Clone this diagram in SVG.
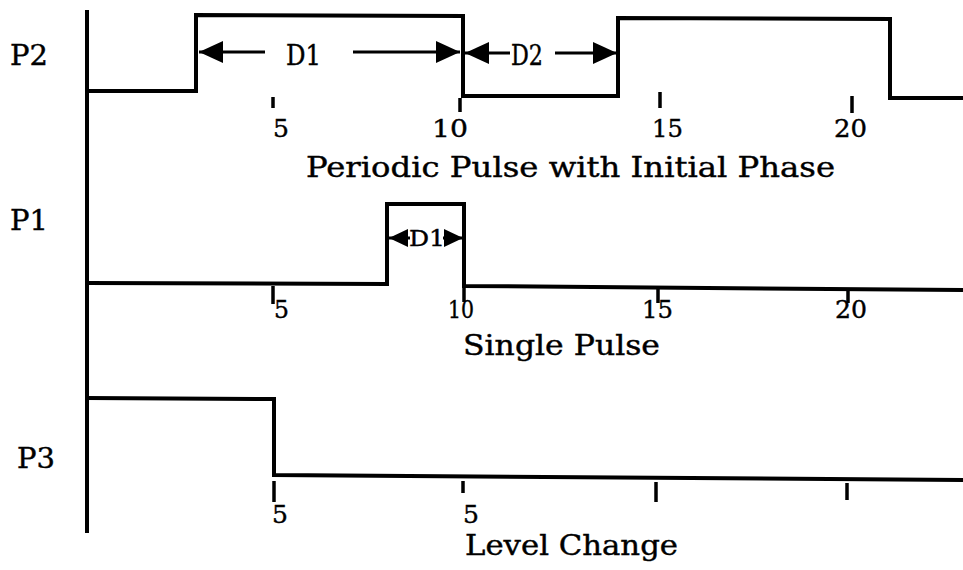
<svg xmlns="http://www.w3.org/2000/svg" width="963" height="570" viewBox="0 0 963 570">
<defs>
<marker id="ah" viewBox="0 0 24 22" refX="24" refY="11" markerWidth="24" markerHeight="22" markerUnits="userSpaceOnUse" orient="auto-start-reverse">
<path d="M0,0 L24,11 L0,22 Z" fill="#000"/>
</marker>
<marker id="ahs" viewBox="0 0 19 18" refX="19" refY="9" markerWidth="19" markerHeight="18" markerUnits="userSpaceOnUse" orient="auto-start-reverse">
<path d="M0,0 L19,9 L0,18 Z" fill="#000"/>
</marker>
</defs>
<style>
text { font-family: "DejaVu Serif", "Liberation Serif", serif; fill: #000; stroke: #000; stroke-width: 0.4; }
.lbl { font-size: 27px; }
.num { font-size: 25px; }
.ttl { font-size: 27px; }
.wave { fill: none; stroke: #000; stroke-width: 4; stroke-linejoin: miter; }
.axis { stroke: #000; stroke-width: 4; }
.tick { stroke: #000; stroke-width: 3.5; }
.dim { stroke: #000; stroke-width: 3; fill: none; }
</style>
<rect width="963" height="570" fill="#fff"/>

<line class="axis" x1="87" y1="10" x2="87" y2="533"/>

<g id="p2">
<text class="lbl" x="10" y="65" textLength="38" lengthAdjust="spacingAndGlyphs">P2</text>
<path class="wave" d="M87,91 L196,91 L196,15 L463,16 L463,96 L618,96 L618,18 L890,19 L890,98 L963,98"/>
<line class="tick" x1="273" y1="97" x2="273" y2="108"/>
<line class="tick" x1="460" y1="98" x2="460" y2="112"/>
<line class="tick" x1="660" y1="92" x2="660" y2="108"/>
<line class="tick" x1="852" y1="96" x2="852" y2="113"/>
<text class="num" x="273" y="137" textLength="16" lengthAdjust="spacingAndGlyphs">5</text>
<text class="num" x="432" y="137" textLength="36" lengthAdjust="spacingAndGlyphs">10</text>
<text class="num" x="652" y="137" textLength="31" lengthAdjust="spacingAndGlyphs">15</text>
<text class="num" x="834" y="137" textLength="33" lengthAdjust="spacingAndGlyphs">20</text>
<text class="ttl" x="306" y="177" textLength="529" lengthAdjust="spacingAndGlyphs">Periodic Pulse with Initial Phase</text>
</g>

<g id="p1">
<text class="lbl" x="10" y="230" textLength="38" lengthAdjust="spacingAndGlyphs">P1</text>
<path class="wave" d="M87,283 L387,284 L387,204 L464,204 L464,286 L963,290"/>
<line class="tick" x1="273" y1="286" x2="273" y2="304"/>
<line class="tick" x1="464" y1="287" x2="464" y2="302"/>
<line class="tick" x1="658" y1="288" x2="658" y2="303"/>
<line class="tick" x1="848" y1="289" x2="848" y2="303"/>
<text class="num" x="274" y="318" textLength="15" lengthAdjust="spacingAndGlyphs">5</text>
<text class="num" x="448" y="318" textLength="26" lengthAdjust="spacingAndGlyphs">10</text>
<text class="num" x="642" y="318" textLength="31" lengthAdjust="spacingAndGlyphs">15</text>
<text class="num" x="835" y="318" textLength="32" lengthAdjust="spacingAndGlyphs">20</text>
<text class="ttl" x="463" y="355" textLength="197" lengthAdjust="spacingAndGlyphs">Single Pulse</text>
</g>

<g id="p3">
<text class="lbl" x="17" y="468" textLength="38" lengthAdjust="spacingAndGlyphs">P3</text>
<path class="wave" d="M87,398 L274,399 L274,475 L963,480"/>
<line class="tick" x1="274" y1="481" x2="274" y2="502"/>
<line class="tick" x1="463" y1="481" x2="463" y2="493"/>
<line class="tick" x1="656" y1="482" x2="656" y2="502"/>
<line class="tick" x1="847" y1="483" x2="847" y2="500"/>
<text class="num" x="272" y="523" textLength="16" lengthAdjust="spacingAndGlyphs">5</text>
<text class="num" x="463" y="523" textLength="16" lengthAdjust="spacingAndGlyphs">5</text>
<text class="ttl" x="465" y="555" textLength="213" lengthAdjust="spacingAndGlyphs">Level Change</text>
</g>

<g id="connectors">
<line class="dim" x1="265" y1="52" x2="199" y2="52" marker-end="url(#ah)"/>
<line class="dim" x1="353" y1="52" x2="460" y2="52" marker-end="url(#ah)"/>
<line class="dim" x1="510" y1="53" x2="465" y2="53" marker-end="url(#ah)"/>
<line class="dim" x1="555" y1="53" x2="617" y2="53" marker-end="url(#ah)"/>
<line class="dim" x1="410" y1="238" x2="389" y2="238" marker-end="url(#ahs)"/>
<line class="dim" x1="443" y1="238" x2="463" y2="238" marker-end="url(#ahs)"/>
</g>

<g id="dim-labels">
<text class="lbl" x="286" y="65" textLength="35" lengthAdjust="spacingAndGlyphs">D1</text>
<text class="lbl" x="511" y="65" textLength="32" lengthAdjust="spacingAndGlyphs">D2</text>
<text x="409" y="246" font-size="22" textLength="36" lengthAdjust="spacingAndGlyphs">D1</text>
</g>
</svg>
